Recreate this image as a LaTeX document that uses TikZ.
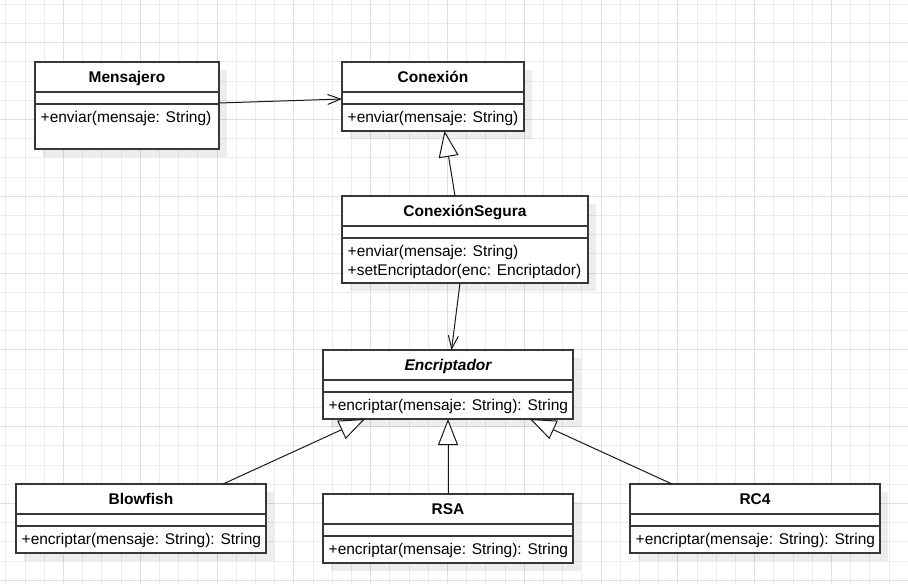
\documentclass[tikz,border=0pt]{standalone}
\usepackage{fontspec}
\setmainfont{Liberation Sans}
\usetikzlibrary{arrows.meta,calc,shadows}

\definecolor{gridminor}{RGB}{236,236,236}
\definecolor{gridmajor}{RGB}{224,224,224}
\definecolor{boxline}{RGB}{55,55,55}
\definecolor{edgeline}{RGB}{25,25,25}

\tikzset{
  gridthin/.style={draw=gridminor, line width=1pt},
  gridthick/.style={draw=gridmajor, line width=1pt},
  classrect/.style={draw=boxline, line width=1.1pt, fill=white, inner sep=0pt, outer sep=0pt,
    drop shadow={shadow xshift=8pt, shadow yshift=-8pt, fill=black, opacity=0.07}},
  classtitle/.style={font=\fontsize{15.5}{19}\selectfont\bfseries, anchor=base, inner sep=0pt},
  classop/.style={font=\fontsize{15.5}{19}\selectfont, anchor=base west, inner sep=0pt},
  sepline/.style={draw=boxline, line width=1.1pt},
  assoc/.style={draw=edgeline, line width=1pt, -{Straight Barb[length=13pt,width=10pt]}},
  generalize/.style={draw=edgeline, line width=1pt, -{Triangle[length=26pt,width=20pt,fill=white]}},
}

% UML class frame: name, left, top, width, height, title
\newcommand{\umlclass}[6]{%
  \node[classrect, minimum width=#4pt, minimum height=#5pt] (#1) at (#2+#4/2, #3+#5/2) {};
  \node[classtitle] (#1-title) at (#2+#4/2, #3+20.5) {#6};
  \draw[sepline] (#2, #3+30) -- (#2+#4, #3+30);
  \draw[sepline] (#2, #3+42) -- (#2+#4, #3+42);
}

\begin{document}
\begin{tikzpicture}[x=1pt, y=-1pt]
  \useasboundingbox (0,0) rectangle (908,584);
  \fill[white] (0,0) rectangle (908,584);

  % background grid
  \begin{scope}
    \clip (0,0) rectangle (908,584);
    \foreach \i in {0,...,47} \draw[gridthin] (5.8+19.2*\i, 0) -- (5.8+19.2*\i, 584);
    \foreach \j in {0,...,30} \draw[gridthin] (0, 4.3+19.2*\j) -- (908, 4.3+19.2*\j);
    \foreach \i in {0,...,11} \draw[gridthick] (63.4+76.8*\i, 0) -- (63.4+76.8*\i, 584);
    \foreach \j in {0,...,7} \draw[gridthick] (0, 42.7+76.8*\j) -- (908, 42.7+76.8*\j);
  \end{scope}

  % classes
  \umlclass{msj}{35}{62}{184}{87}{Mensajero}
  \node[classop] (msj-op1) at (35+5.5, 62+42+18.5) {+enviar(mensaje: String)};

  \umlclass{con}{342}{62}{182}{69}{Conexión}
  \node[classop] (con-op1) at (342+5.5, 62+42+18.5) {+enviar(mensaje: String)};

  \umlclass{cs}{342}{196}{246}{87}{ConexiónSegura}
  \node[classop] (cs-op1) at (342+5.5, 196+42+18.5) {+enviar(mensaje: String)};
  \node[classop] (cs-op2) at (342+5.5, 196+42+37.5) {+setEncriptador(enc: Encriptador)};

  \umlclass{enc}{323}{350}{250}{69}{\itshape Encriptador}
  \node[classop] (enc-op1) at (323+5.5, 350+42+18.5) {+encriptar(mensaje: String): String};

  \umlclass{blow}{16}{484}{250}{69}{Blowfish}
  \node[classop] (blow-op1) at (16+5.5, 484+42+18.5) {+encriptar(mensaje: String): String};

  \umlclass{rsa}{323}{494}{250}{69}{RSA}
  \node[classop] (rsa-op1) at (323+5.5, 494+42+18.5) {+encriptar(mensaje: String): String};

  \umlclass{rc4}{630}{484}{250}{69}{RC4}
  \node[classop] (rc4-op1) at (630+5.5, 484+42+18.5) {+encriptar(mensaje: String): String};

  % relations
  \draw[assoc] ($(msj.north east)+(0,41)$) -- ($(con.north west)+(0,37)$);
  \draw[generalize] ($(cs.north west)+(113,0)$) -- ($(con.south west)+(102.5,0)$);
  \draw[assoc] ($(cs.south west)+(118,0)$) -- ($(enc.north west)+(128.5,0)$);
  \draw[generalize] ($(blow.north west)+(207,0)$) -- ($(enc.south west)+(42,0)$);
  \draw[generalize] ($(rsa.north west)+(125,0)$) -- ($(enc.south west)+(125,0)$);
  \draw[generalize] ($(rc4.north west)+(42,0)$) -- ($(enc.south west)+(207,0)$);
\end{tikzpicture}
\end{document}
